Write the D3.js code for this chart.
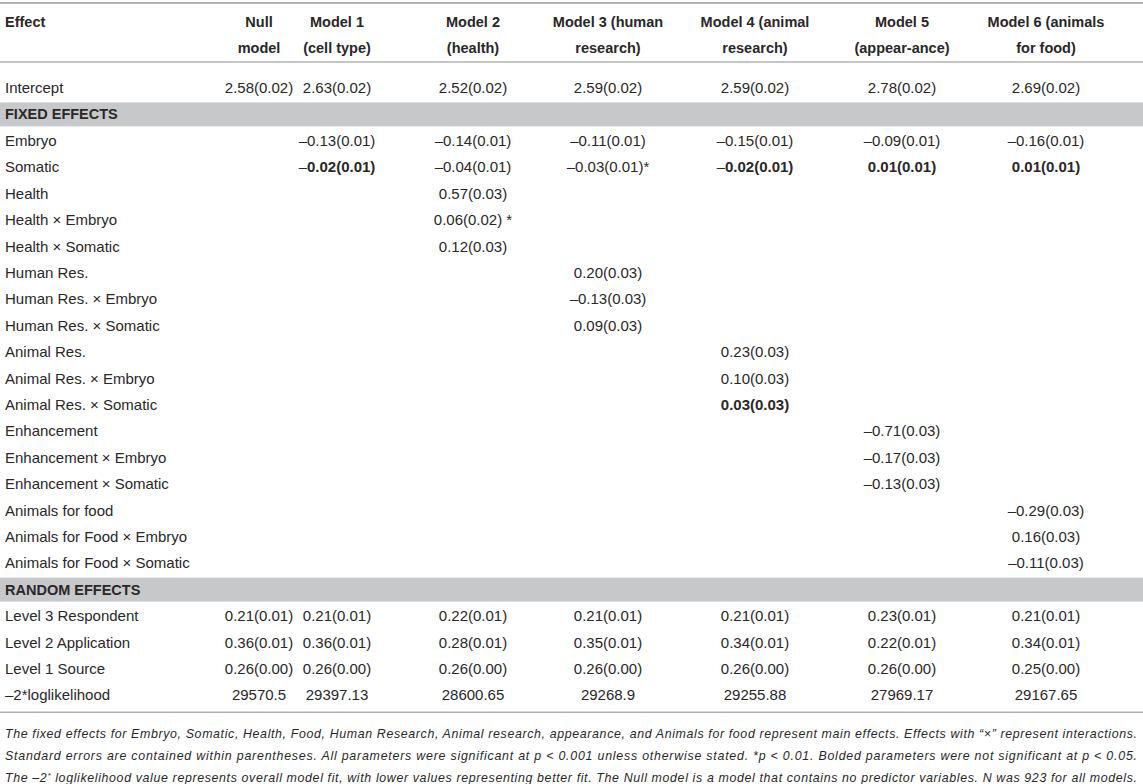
<!DOCTYPE html>
<html><head><meta charset="utf-8">
<script src="https://cdn.jsdelivr.net/npm/d3@7"></script>
<style>
html,body{margin:0;padding:0;background:#fff;}
svg{display:block;font-family:"Liberation Sans",Arial,Helvetica,sans-serif;}
</style></head>
<body>
<svg id="t" width="1143" height="784"></svg>
<script>
const models = ["Null","M1","M2","M3","M4","M5","M6"];
const headerLines = [
  ["Null","model"],["Model 1","(cell type)"],["Model 2","(health)"],
  ["Model 3 (human","research)"],["Model 4 (animal","research)"],
  ["Model 5","(appear-ance)"],["Model 6 (animals","for food)"]
];
const effects = [
  "Intercept","FIXED EFFECTS","Embryo","Somatic","Health","Health × Embryo","Health × Somatic",
  "Human Res.","Human Res. × Embryo","Human Res. × Somatic","Animal Res.","Animal Res. × Embryo",
  "Animal Res. × Somatic","Enhancement","Enhancement × Embryo","Enhancement × Somatic",
  "Animals for food","Animals for Food × Embryo","Animals for Food × Somatic","RANDOM EFFECTS",
  "Level 3 Respondent","Level 2 Application","Level 1 Source","–2*loglikelihood"
];
const sectionRows = ["FIXED EFFECTS","RANDOM EFFECTS"];
const values = [
  ["2.58(0.02)","2.63(0.02)","2.52(0.02)","2.59(0.02)","2.59(0.02)","2.78(0.02)","2.69(0.02)"],
  ["","","","","","",""],
  ["","–0.13(0.01)","–0.14(0.01)","–0.11(0.01)","–0.15(0.01)","–0.09(0.01)","–0.16(0.01)"],
  ["","–0.02(0.01)","–0.04(0.01)","–0.03(0.01)*","–0.02(0.01)","0.01(0.01)","0.01(0.01)"],
  ["","","0.57(0.03)","","","",""],
  ["","","0.06(0.02) *","","","",""],
  ["","","0.12(0.03)","","","",""],
  ["","","","0.20(0.03)","","",""],
  ["","","","–0.13(0.03)","","",""],
  ["","","","0.09(0.03)","","",""],
  ["","","","","0.23(0.03)","",""],
  ["","","","","0.10(0.03)","",""],
  ["","","","","0.03(0.03)","",""],
  ["","","","","","–0.71(0.03)",""],
  ["","","","","","–0.17(0.03)",""],
  ["","","","","","–0.13(0.03)",""],
  ["","","","","","","–0.29(0.03)"],
  ["","","","","","","0.16(0.03)"],
  ["","","","","","","–0.11(0.03)"],
  ["","","","","","",""],
  ["0.21(0.01)","0.21(0.01)","0.22(0.01)","0.21(0.01)","0.21(0.01)","0.23(0.01)","0.21(0.01)"],
  ["0.36(0.01)","0.36(0.01)","0.28(0.01)","0.35(0.01)","0.34(0.01)","0.22(0.01)","0.34(0.01)"],
  ["0.26(0.00)","0.26(0.00)","0.26(0.00)","0.26(0.00)","0.26(0.00)","0.26(0.00)","0.25(0.00)"],
  ["29570.5","29397.13","28600.65","29268.9","29255.88","27969.17","29167.65"]
];
// [row, column] of bolded (non-significant) parameters
const boldCells = [[3,1],[3,4],[3,5],[3,6],[12,4]];
const notes = [
  ["The fixed effects for Embryo, Somatic, Health, Food, Human Research, Animal research, appearance, and Animals for food represent main effects. Effects with “×” represent interactions."],
  ["Standard errors are contained within parentheses. All parameters were significant at ","p"," < 0.001 unless otherwise stated. *","p"," < 0.01. Bolded parameters were not significant at ","p"," < 0.05."],
  ["The –2","*"," loglikelihood value represents overall model fit, with lower values representing better fit. The Null model is a model that contains no predictor variables. N was 923 for all models."]
];

const W = 1143, H = 784;
const svg = d3.select("#t");
const ink = "#2a2728";
const fs = 15;
const hfs = 14.5;

const x = d3.scaleOrdinal().domain(models).range([259, 337, 473, 608, 755, 902, 1046]);
const y = d3.scaleLinear().domain([0, effects.length - 1]).range([88, 88 + 26.4 * (effects.length - 1)]);
const hy = d3.scaleLinear().domain([0, 1]).range([22, 48]);
const ny = d3.scaleLinear().domain([0, 1]).range([734, 756]);

// section bands
svg.selectAll("rect.band").data(sectionRows).join("rect")
  .attr("class","band")
  .attr("x",0).attr("width",W)
  .attr("y",d => y(effects.indexOf(d)) - 12).attr("height",24)
  .attr("fill","#c7c8ca");

// rules
const lastRow = effects.length - 1;
const rules = [3, 62, y(lastRow) + 17];
svg.selectAll("line.rule").data(rules).join("line")
  .attr("class","rule")
  .attr("x1",0).attr("x2",W).attr("y1",d=>d).attr("y2",d=>d)
  .attr("stroke","#b3b3b3").attr("stroke-width",(d,i)=> i===0 ? 2.2 : 1.6);

// header
const head = svg.append("g").attr("font-weight","bold").attr("font-size",hfs).attr("fill",ink);
head.append("text").attr("x",5).attr("y",hy(0)).attr("dy","0.35em").text("Effect");
models.forEach((m,i) => {
  head.selectAll(null).data(headerLines[i]).join("text")
    .attr("x",x(m)).attr("y",(d,j)=>hy(j)).attr("dy","0.35em")
    .attr("text-anchor","middle").text(d=>d);
});

// effect labels
svg.append("g").selectAll("text").data(effects).join("text")
  .attr("x",5).attr("y",(d,i)=>y(i)).attr("dy","0.35em")
  .attr("font-size",d => sectionRows.includes(d) ? hfs : fs).attr("fill",ink)
  .attr("font-weight",d => sectionRows.includes(d) ? "bold" : "normal")
  .text(d=>d);

// cells
const cells = [];
values.forEach((row,r) => row.forEach((v,c) => {
  if (v !== "") cells.push({r, c, v, bold: boldCells.some(b => b[0]===r && b[1]===c)});
}));
const cellText = svg.append("g").selectAll("text").data(cells).join("text")
  .attr("x",d=>x(models[d.c])).attr("y",d=>y(d.r)).attr("dy","0.35em")
  .attr("text-anchor","middle").attr("font-size",fs).attr("fill",ink);
cellText.each(function(d){
  const t = d3.select(this);
  if (d.bold && d.v.startsWith("–")) {
    t.append("tspan").text("–");
    t.append("tspan").attr("font-weight","bold").text(d.v.slice(1));
  } else if (d.bold) {
    t.attr("font-weight","bold").text(d.v);
  } else {
    t.text(d.v);
  }
});

// notes
const nt = svg.append("g").attr("font-size",12.4).attr("font-style","italic").attr("fill",ink);
notes.forEach((parts,i) => {
  const t = nt.append("text").attr("x",5).attr("y",ny(i)).attr("dy","0.35em")
    .attr("textLength",1132).attr("lengthAdjust","spacing");
  parts.forEach((p,k) => {
    const ts = t.append("tspan").text(p);
    if (i===2 && k===1) ts.attr("baseline-shift","super").attr("font-size",8);
  });
});
</script>
</body></html>
